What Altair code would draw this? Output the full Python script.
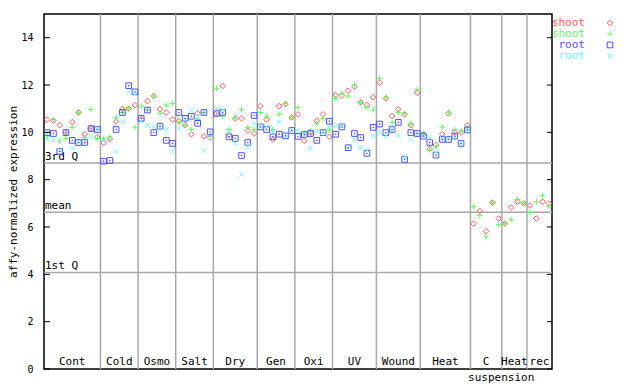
import altair as alt
import pandas as pd

# ---------------- data ----------------
groups = ["Cont", "Cold", "Osmo", "Salt", "Dry", "Gen", "Oxi", "UV", "Wound",
          "Heat", "C", "Heat", "rec"]
group_sizes = [9, 6, 6, 6, 7, 6, 6, 7, 7, 8, 5, 4, 4]

shoot_a = [10.54, 10.49, 10.30, 10.00, 10.43, 10.84, 9.92, 10.16, 9.80,
           9.56, 9.72, 10.46, 10.98, 11.00, 11.15,
           10.55, 11.32, 11.53, 10.98, 10.84, 10.54,
           10.47, 10.30, 9.92, 10.80, 9.83, 9.78,
           10.80, 11.96, 9.90, 10.59, 10.59, 10.07, 9.95,
           11.11, 10.54, 9.70, 11.11, 11.19, 10.63,
           10.76, 9.64, 9.99, 10.49, 10.76, 9.81,
           11.57, 11.55, 11.76, 11.93, 11.26, 11.15, 11.48,
           12.10, 11.43, 10.69, 10.97, 10.76, 10.30, 11.67,
           9.92, 9.30, 9.46, 9.92, 10.80, 10.00, 9.99, 10.30,
           6.14, 6.67, 5.82, 7.03, 6.36,
           6.14, 6.82, 7.07, 6.99,
           6.91, 6.36, 7.07, 6.99]

shoot_b = [9.84, 10.54, 9.63, 9.74, 10.21, 10.84, 9.78, 10.97, 9.74,
           9.74, 9.81, 10.63, 10.84, 11.01, 10.21,
           11.11, 10.94, 11.53, 10.80, 11.15, 11.22,
           10.44, 10.30, 10.12, 10.54, 10.84, 9.88,
           11.86, 10.68, 10.12, 10.63, 10.97, 10.21, 10.12,
           10.84, 10.68, 10.12, 10.76, 11.22, 10.63,
           11.05, 9.98, 10.09, 10.38, 10.59, 10.09,
           11.43, 11.65, 11.53, 12.00, 11.26, 11.05, 10.94,
           12.28, 11.48, 10.42, 10.84, 10.80, 10.38, 11.81,
           9.95, 9.25, 9.40, 10.23, 10.85, 10.12, 10.05, 10.20,
           6.86, 6.48, 5.59, 7.03, 6.10,
           6.14, 6.31, 7.16, 6.99,
           6.61, 7.07, 7.33, 6.86]

root_a = [9.99, 9.95, 9.20, 9.99, 9.66, 9.57, 9.57, 10.16, 10.12,
          8.78, 8.81, 10.12, 10.84, 11.97, 11.71,
          10.59, 10.94, 9.99, 10.26, 9.66, 9.53,
          10.84, 10.59, 10.68, 10.38, 10.84, 10.02,
          10.80, 10.84, 9.81, 9.74, 9.02, 9.57, 10.71,
          10.23, 10.12, 9.81, 9.92, 9.85, 10.08,
          9.83, 9.91, 9.95, 9.66, 9.99, 10.47,
          9.92, 10.23, 9.35, 9.95, 9.78, 9.11, 10.21,
          10.35, 9.99, 10.12, 10.42, 8.85, 9.99, 9.95,
          9.84, 9.57, 9.04, 9.70, 9.70, 9.84, 9.53, 10.10]

root_b = [9.70, 9.66, 9.25, 9.99, 9.32, 9.60, 9.57, 9.83, 10.12,
          9.66, 9.66, 9.19, 10.46, 11.71, 11.63,
          10.46, 10.29, 10.23, 10.21, 10.12, 9.19,
          10.16, 10.55, 10.93, 10.66, 9.23, 9.80,
          10.97, 10.94, 9.98, 9.53, 8.22, 9.39, 10.38,
          10.26, 10.26, 10.02, 10.44, 9.85, 10.09,
          10.08, 9.95, 9.32, 10.05, 10.00, 10.23,
          10.26, 10.26, 9.35, 9.70, 9.36, 9.25, 9.85,
          9.99, 9.85, 10.09, 9.85, 8.99, 9.70, 9.95,
          9.86, 9.78, 9.18, 9.74, 9.74, 9.80, 9.53, 10.10]

y_ticks = [0, 2, 4, 6, 8, 10, 12, 14]
quart_vals = [8.70, 6.62, 4.08]
quart_labels = ["3rd Q", "mean", "1st Q"]

series_keys = ["sa", "sb", "ra", "rb"]
series_names = ["shoot", "shoot", "root", "root"]
series_colors = ["#ff5a5a", "#5aff5a", "#5050ff", "#66ffff"]
plus_path = "M-1,0L1,0M0,-1L0,1"
x_path = "M-0.8,-0.8L0.8,0.8M-0.8,0.8L0.8,-0.8"
series_shapes = ["diamond", plus_path, "square", x_path]

# ---------------- tables ----------------
rows = []
for key, vals in zip(series_keys, [shoot_a, shoot_b, root_a, root_b]):
    for i, v in enumerate(vals):
        if v is not None:
            rows.append({"x": i + 0.5, "y": v, "s": key})
pts = pd.DataFrame(rows)

bounds = []
centers = []
acc = 0
for n in group_sizes:
    centers.append(acc + n / 2)
    acc += n
    bounds.append(acc)
total = acc
sep_df = pd.DataFrame({"x": bounds[:-1]})
lab_df = pd.DataFrame({"x": centers, "label": groups})
quart_df = pd.DataFrame({"y": quart_vals, "label": quart_labels})
tick_df = pd.DataFrame({"y": y_ticks})
leg_df = pd.DataFrame({"s": series_keys, "name": series_names})

W, H = 508, 355
FONT = "DejaVu Sans Mono"

xs = alt.Scale(domain=[0, total], nice=False, zero=False)
ys = alt.Scale(domain=[0, 15], nice=False)
color_scale = alt.Scale(domain=series_keys, range=series_colors)
shape_scale = alt.Scale(domain=series_keys, range=series_shapes)

base = alt.Chart(pts)

seps = alt.Chart(sep_df).mark_rule(color="#a8a8a8", strokeWidth=1.5).encode(
    x=alt.X("x:Q", scale=xs, axis=None), y=alt.value(0), y2=alt.value(H))

quart_lines = alt.Chart(quart_df).mark_rule(color="#a8a8a8", strokeWidth=1.5).encode(
    y=alt.Y("y:Q", scale=ys), x=alt.value(0), x2=alt.value(W))

quart_text = alt.Chart(quart_df).mark_text(
    align="left", baseline="bottom", font=FONT, fontSize=11, color="black", dy=-1
).encode(y=alt.Y("y:Q", scale=ys), x=alt.value(1), text="label:N")

points = base.mark_point(filled=False, size=32, strokeWidth=1, opacity=1).encode(
    x=alt.X("x:Q", scale=xs, axis=None),
    y=alt.Y("y:Q", scale=ys, title="affy-normalized expression",
            axis=alt.Axis(values=y_ticks, tickSize=0, labelPadding=11,
                          labelFont=FONT, labelFontSize=10, labelColor="black",
                          titleFont=FONT, titleFontSize=11, titleFontWeight="normal",
                          titleColor="black", titleX=-31, titleY=H / 2,
                          titleAngle=270, titleAlign="center",
                          titleBaseline="middle", grid=False, domain=False)),
    color=alt.Color("s:N", scale=color_scale, legend=None),
    shape=alt.Shape("s:N", scale=shape_scale, legend=None),
)

dots = base.transform_filter(alt.datum.s == "ra").mark_point(
    filled=True, shape="square", size=2, color="#5050ff", opacity=1).encode(
    x=alt.X("x:Q", scale=xs), y=alt.Y("y:Q", scale=ys))

ticks_l = alt.Chart(tick_df).mark_rule(color="black").encode(
    y=alt.Y("y:Q", scale=ys), x=alt.value(0), x2=alt.value(6))
ticks_r = alt.Chart(tick_df).mark_rule(color="black").encode(
    y=alt.Y("y:Q", scale=ys), x=alt.value(W - 5), x2=alt.value(W))

group_text = alt.Chart(lab_df).mark_text(
    font=FONT, fontSize=11, color="black", baseline="middle"
).encode(x=alt.X("x:Q", scale=xs), y=alt.value(H - 7), text="label:N")

susp_text = alt.Chart(lab_df).transform_filter(alt.datum.label == "C").transform_calculate(
    t="'suspension'").mark_text(
    font=FONT, fontSize=11, color="black", baseline="middle", dx=15
).encode(x=alt.X("x:Q", scale=xs), y=alt.value(H + 9), text="t:N")

leg_layers = []
for k, yy in zip(series_keys, [9, 20, 31, 42]):
    sub = alt.Chart(leg_df).transform_filter(alt.datum.s == k)
    leg_layers.append(sub.mark_text(
        font=FONT, fontSize=11, align="right", baseline="middle").encode(
        x=alt.value(541), y=alt.value(yy), text="name:N",
        color=alt.Color("s:N", scale=color_scale, legend=None)))
    leg_layers.append(sub.mark_point(filled=False, size=32, strokeWidth=1, opacity=1).encode(
        x=alt.value(566), y=alt.value(yy),
        color=alt.Color("s:N", scale=color_scale, legend=None),
        shape=alt.Shape("s:N", scale=shape_scale, legend=None)))

chart = alt.layer(
    seps, quart_lines, quart_text, points, dots, ticks_l, ticks_r,
    group_text, susp_text, *leg_layers
).properties(
    width=W, height=H,
    autosize="none",
    padding={"left": 36, "top": 6, "right": 80, "bottom": 15},
    background="white",
).configure_view(stroke="black", strokeWidth=1.5)

chart.save("out.html", embed_options={"renderer": "svg", "actions": False})
